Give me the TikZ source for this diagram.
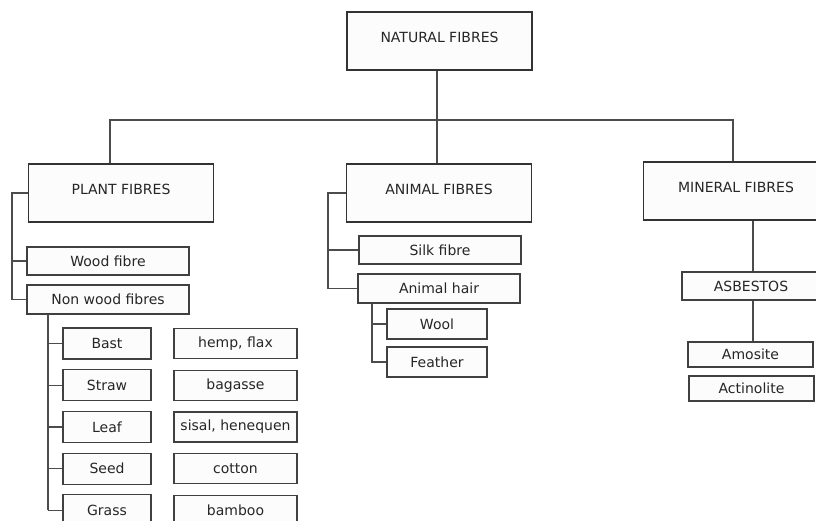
\documentclass[tikz,border=0pt]{standalone}
\usepackage{fontspec}
\setmainfont{DejaVu Sans}
\begin{document}
\begin{tikzpicture}[x=1pt,y=-1pt,
  every node/.style={font=\fontsize{14}{16}\selectfont,text=black!85},
  mainbox/.style={draw=black!80,line width=1.6pt,fill=black!1,minimum width=185pt,minimum height=58pt,inner sep=0pt,text height=11pt,text depth=8pt},
  subbox/.style={draw=black!75,line width=1.2pt,fill=black!1,minimum height=28pt,inner sep=0pt},
  link/.style={draw=black!70,line width=1.2pt}]
  \path[use as bounding box,clip] (0,0) rectangle (816,521);
  \node[mainbox] (natural) at (439.5,41) {NATURAL FIBRES};
  \node[mainbox] (plant) at (121,193) {PLANT FIBRES};
  \node[mainbox] (animal) at (439,193) {ANIMAL FIBRES};
  \node[mainbox] (mineral) at (736,191) {MINERAL FIBRES};
  \coordinate (split) at (437,120);
  \draw[link] (natural.south -| split) -- (split);
  \draw[link] ([xshift=-11pt]plant.north) |- ([xshift=-3pt]mineral.north |- split) -- ([xshift=-3pt]mineral.north);
  \draw[link] (split) -- (animal.north -| split);
  % plant fibres
  \coordinate (pbar) at (12,0);
  \coordinate (ptrunk) at (48,0);
  \node[subbox,minimum width=162pt] (wood) at (108,261) {Wood fibre};
  \node[subbox,minimum width=162pt,minimum height=29pt] (nonwood) at (108,299.5) {Non wood fibres};
  \draw[link] (plant.west) -- (plant.west -| pbar) |- (nonwood.west);
  \draw[link] (wood.west -| pbar) -- (wood.west);
  \foreach \name/\kind/\example [count=\i from 0] in
    {bast/Bast/{hemp, flax},straw/Straw/bagasse,leaf/Leaf/{sisal, henequen},seed/Seed/cotton,grass/Grass/bamboo}
  {
    \node[subbox,minimum width=88pt,minimum height=31pt] (\name) at (107,343.5+41.7*\i) {\kind};
    \node[subbox,minimum width=123pt,minimum height=30pt] (\name-ex) at (235.5,343.5+41.7*\i) {\example};
    \draw[link] (\name.west -| ptrunk) -- (\name.west);
  }
  \draw[link] (nonwood.south -| ptrunk) -- (grass.west -| ptrunk);
  % animal fibres
  \coordinate (abar) at (328,0);
  \coordinate (atrunk) at (372,0);
  \node[subbox,minimum width=162pt] (silk) at (440,250) {Silk fibre};
  \node[subbox,minimum width=162pt,minimum height=29pt] (hair) at (439,288.5) {Animal hair};
  \node[subbox,minimum width=100pt,minimum height=30pt] (wool) at (437,324) {Wool};
  \node[subbox,minimum width=100pt,minimum height=30pt] (feather) at (437,362) {Feather};
  \draw[link] (animal.west) -- (animal.west -| abar) |- (hair.west);
  \draw[link] (silk.west -| abar) -- (silk.west);
  \draw[link] (hair.south -| atrunk) |- (feather.west);
  \draw[link] (wool.west -| atrunk) -- (wool.west);
  % mineral fibres
  \coordinate (mtrunk) at (753,0);
  \node[subbox,minimum width=138pt] (asbestos) at (751,286) {ASBESTOS};
  \node[subbox,minimum width=125pt,minimum height=25pt] (amosite) at (750.5,354.5) {Amosite};
  \node[subbox,minimum width=125pt,minimum height=25pt] (actinolite) at (751.5,388.5) {Actinolite};
  \draw[link] (mineral.south -| mtrunk) -- (asbestos.north -| mtrunk);
  \draw[link] (asbestos.south -| mtrunk) -- (amosite.north -| mtrunk);
\end{tikzpicture}
\end{document}
